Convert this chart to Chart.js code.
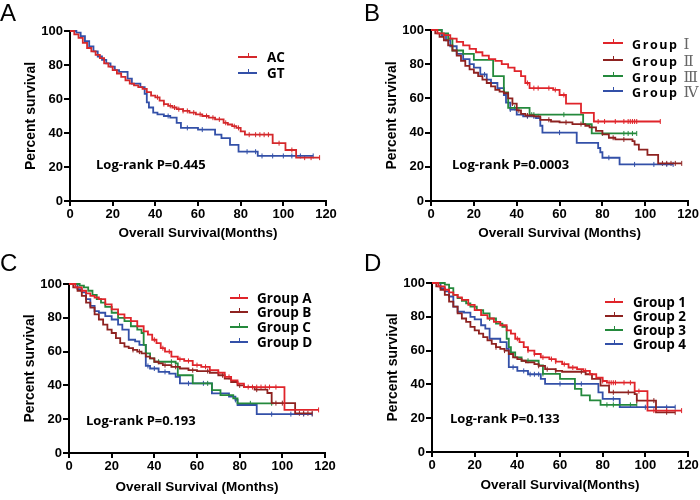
<!DOCTYPE html>
<html>
<head>
<meta charset="utf-8">
<script src="https://cdn.jsdelivr.net/npm/chart.js@4.4.0/dist/chart.umd.min.js"></script>
<style>
  body { margin: 0; background: #fff; }
  #wrap { position: relative; width: 700px; height: 500px; overflow: hidden; font-family: "Liberation Sans", Arial, sans-serif; }
  .panel { position: absolute; width: 350px; height: 250px; }
  .letter { position: absolute; font-size: 24px; line-height: 24px; color: #000; }
  .lr { position: absolute; font: 700 13px "Open Sans", sans-serif; line-height: 14px; color: #000; white-space: nowrap; }
  .row { position: absolute; height: 16px; white-space: nowrap; font: 700 13.5px "Open Sans", sans-serif; line-height: 16px; color: #000; }
  .smp { position: absolute; left: 0; top: 7px; height: 2px; }
  .smp i { position: absolute; top: -3px; width: 1px; height: 4px; }
  .txt { position: absolute; top: 0; }
  .sp { letter-spacing: 1.6px; font-size: 12.5px; }
  .num { font: normal 15px "DejaVu Serif", serif; color: #666; margin-left: 5px; }
</style>
</head>
<body>
<div id="wrap">
  <canvas id="cA" class="panel" width="350" height="250" style="left:0;top:0"></canvas>
  <canvas id="cB" class="panel" width="350" height="250" style="left:350px;top:0"></canvas>
  <canvas id="cC" class="panel" width="350" height="250" style="left:0;top:250px"></canvas>
  <canvas id="cD" class="panel" width="350" height="250" style="left:350px;top:250px"></canvas>
</div>
<script>
// axis ticks
const xTicks = [0, 20, 40, 60, 80, 100, 120];
const yTicks = [0, 20, 40, 60, 80, 100];

// panel A: AC / GT
const acTime = [0,2,4,6,8,10,12,14,16,18,20,22,24,26,28,30,32,34,36,38,40,42,44,46,48,50,53,56,59,62,65,68,70,72,74,76,78,80,82,95,101,106,117];
const acSurv = [100,98,96,93,90,88,86,84,81,79,77,75,73,71,69,68,67,66,64,62,61,59,57,56,55,54,53,52,51,50,49,48,48,46,45,44,43,41,39,34,30,25.5,25.5];
const acCens = [41,44,47,49,51,53,55,58,61,64,67,70,73,77,79,84,87,89,91,93,98,104,110,113,117];
const gtTime = [0,3,5,7,9,11,13,15,17,19,21,23,25,27,29,31,33,35,36,37,39,41,44,47,50,52,60,68,71,75,79,88,114];
const gtSurv = [100,99,97,94,91,88,85,83,81,79,77,76,76,72,69,69,67,63,58,55,52,51,50,49,46,43,42,39,37,33,29,26.5,26.5];
const gtCens = [46,55,62,83,87,90,95,100,104,108,114];

// panel B: Group I-IV
const b1Time = [0,3,6,9,12,15,18,21,24,27,30,33,36,39,42,44,46,57,60,63,70,76,107];
const b1Surv = [100,98,97,95,93,91,89,87,85,83,82,80,78,76,73,69,66,65,62,57,51.5,46.5,46.5];
const b1Cens = [45,48,50,55,58,62,78,81,86,90,92,93,94,95,96,107];
const b2Time = [0,2,4,6,8,10,12,14,16,18,20,22,24,26,28,30,32,34,36,38,40,42,44,48,51,56,60,66,72,74,77,80,83,86,94,95,97,101,106,117];
const b2Surv = [100,98,96,94,91,88,85,82,79,77,75,73,71,69,67,65,64,63,60,57,53,51,50,49.5,47.5,46.5,46,45,44,43,41,39,37,36,35,33,30,27,22,22];
const b2Cens = [38,41,45,50,55,63,70,75,85,90,108,110,112,114,117];
const b3Time = [0,5,8,10,15,20,29,34,36,46,71,75,96];
const b3Surv = [100,98,95,88,86,82.5,73,63.5,54.5,50.5,45,39.5,39.5];
const b3Cens = [39,47,48,62,80,90,92,94,96];
const b4Time = [0,5,7,9,12,15,18,20,23,26,28,31,34,35,37,40,43,49,51,52,68,78,79,80,88,113];
const b4Surv = [100,97,94,90.5,86,83,80,78,74,71,69,66,62,57.5,53.5,50.5,49.5,48.5,44,40,34,31,28.5,25.3,21.4,21.4];
const b4Cens = [25,37,45,48,60,83,95,104,110,113];

// panel C: Group A-D
const caTime = [0,3,6,8,10,12,14,17,20,23,26,29,32,35,37,39,41,43,45,48,51,54,58,62,66,70,73,76,79,82,101,117];
const caSurv = [100,98,96,94.5,93,92,91,88,85,82,80,78,75,72,70,67,65,62,60,57,55.5,54.5,52,51,49,47.5,45,43,41,39,25.5,25.5];
const caCens = [40,44,47,52,56,60,64,70,75,84,86,88,90,92,94,97,117];
const cbTime = [0,2,4,6,8,10,12,14,16,18,20,22,24,26,28,30,32,34,36,38,40,42,44,48,52,56,60,66,70,73,76,79,82,87,93,95,106,114];
const cbSurv = [100,98,96,93,89,86,82,79,76,73,71,68,65,63,62,61,60,59,57,56,54,53,52,51,50,49,48.5,47.5,46,44,42,40,39,37.5,35.5,29.5,23.5,23.5];
const cbCens = [30,33,45,50,58,65,72,80,88,97,100,108,110,112,114];
const ccTime = [0,5,7,9,11,13,15,17,20,23,26,29,32,34,35,36,38,40,50,51,58,67,71,77,79,96];
const ccSurv = [100,99,98,96,93.5,91,89,86.5,83,80,78,75,73,71,64,59,56,54,53,46,41.2,37.2,34.3,32.3,29.4,29.4];
const ccCens = [42,48,65,85,95];
const cdTime = [0,4,6,8,10,12,14,17,20,23,25,28,31,33,36,38,42,47,50,52,67,75,78,79,88,114];
const cdSurv = [100,97,95,91,87,84,83,81,79,76,73,67,66,64,51.5,50,48,47,45,41.2,35.3,33.3,31.4,28.4,23,23];
const cdCens = [37,40,45,56,63,78,95,104,110,114];

// panel D: Group 1-4
const d1Time = [0,3,6,8,10,12,14,17,20,23,26,29,32,35,37,39,41,43,45,48,51,55,58,61,64,68,71,74,77,80,82,95,101,117];
const d1Surv = [100,98,96,94.5,93,91.5,90,87,84,81,79,77,75,72,70,67,65,62,60,58,56,55,53.5,52,50,49,48,46,44,42,41,36,24.5,24.5];
const d1Cens = [40,45,48,52,56,58,62,66,72,80,83,84,85,86,90,93,97,104,110,117];
const d2Time = [0,2,4,6,8,10,12,14,16,18,20,22,24,26,28,30,32,34,36,38,40,42,44,48,50,53,58,61,72,75,79,83,95,96,105,114];
const d2Surv = [100,98,96,93,89,86,82,79,77,74,72,70,68,66,64,62,61,60,58,56,55,54,53,52,51,49,48,47.5,46,43.3,39.3,35.3,34.3,30.4,23.5,23.5];
const d2Cens = [30,34,50,54,58,70,85,92,96,104,110,114];
const d3Time = [0,6,8,10,12,14,16,18,21,24,27,30,33,35,36,37,39,42,50,52,60,67,70,74,79,96];
const d3Surv = [100,99,97,93,91,89.5,88,86,84,82,79,76,74,67,62,59,56,54,51.3,46.2,43.3,37.4,33.5,30.5,27.9,27.9];
const d3Cens = [27,45,52,82,85,88,93,96];
const d4Time = [0,4,6,8,10,12,15,18,20,23,25,27,32,35,36,40,45,51,53,78,80,88,114];
const d4Surv = [100,97,95,92,86,83,82.5,80,78.5,75,73,67,65,61,50.2,48,46,43.3,40.3,35.3,31.4,26.5,26.5];
const d4Cens = [38,43,46,48,50,60,70,85,100,110,114];

const RED = '#e0242a', DARK = '#8e2220', GREEN = '#24893c', BLUE = '#3350a8';

const panels = [
  { canvas: 'cA', letter: 'A', ox: 0, oy: 0, area: { l: 70, r: 326, t: 31, b: 201 }, xTitle: 'Overall Survival(Months)', xPad: 9,
    p: 'Log-rank P=0.445', pPos: [96, 157], leg: { x: 238, w: 19, tx: 267, ys: [57, 73] }, spaced: false,
    series: [
      { name: 'AC', t: acTime, s: acSurv, c: acCens, color: '#d4282b' },
      { name: 'GT', t: gtTime, s: gtSurv, c: gtCens, color: BLUE } ] },
  { canvas: 'cB', letter: 'B', ox: 350, oy: 0, area: { l: 81, r: 339, t: 30, b: 201 }, xTitle: 'Overall Survival (Months)', xPad: 9,
    p: 'Log-rank P=0.0003', pPos: [452, 157], leg: { x: 603, w: 20, tx: 632, ys: [43, 60, 76, 91] }, spaced: true,
    series: [
      { name: 'Group Ⅰ', t: b1Time, s: b1Surv, c: b1Cens, color: RED },
      { name: 'Group Ⅱ', t: b2Time, s: b2Surv, c: b2Cens, color: DARK },
      { name: 'Group Ⅲ', t: b3Time, s: b3Surv, c: b3Cens, color: GREEN },
      { name: 'Group Ⅳ', t: b4Time, s: b4Surv, c: b4Cens, color: BLUE } ] },
  { canvas: 'cC', letter: 'C', ox: 0, oy: 250, area: { l: 69, r: 325, t: 34, b: 203 }, xTitle: 'Overall Survival (Months)', xPad: 5,
    p: 'Log-rank P=0.193', pPos: [86, 413], leg: { x: 230, w: 18, tx: 257, ys: [298, 312, 327, 342] }, spaced: false,
    series: [
      { name: 'Group A', t: caTime, s: caSurv, c: caCens, color: RED },
      { name: 'Group B', t: cbTime, s: cbSurv, c: cbCens, color: DARK },
      { name: 'Group C', t: ccTime, s: ccSurv, c: ccCens, color: GREEN },
      { name: 'Group D', t: cdTime, s: cdSurv, c: cdCens, color: BLUE } ] },
  { canvas: 'cD', letter: 'D', ox: 350, oy: 250, area: { l: 82, r: 338, t: 33, b: 202 }, xTitle: 'Overall Survival(Months)', xPad: 7,
    p: 'Log-rank P=0.133', pPos: [450, 411], leg: { x: 605, w: 18, tx: 633, ys: [302, 316, 330, 344] }, spaced: false,
    series: [
      { name: 'Group 1', t: d1Time, s: d1Surv, c: d1Cens, color: RED },
      { name: 'Group 2', t: d2Time, s: d2Surv, c: d2Cens, color: DARK },
      { name: 'Group 3', t: d3Time, s: d3Surv, c: d3Cens, color: GREEN },
      { name: 'Group 4', t: d4Time, s: d4Surv, c: d4Cens, color: BLUE } ] }
];

// survival level at time t from a step curve
function survAt(times, surv, t) {
  let v = surv[0];
  for (let i = 0; i < times.length; i++) if (times[i] <= t) v = surv[i];
  return v;
}

const AXF = '"Liberation Sans", Arial, sans-serif';
const wrap = document.getElementById('wrap');

panels.forEach(p => {
  const lines = p.series.map(sr => ({
    data: sr.t.map((t, i) => ({ x: t, y: sr.s[i] })),
    stepped: 'before', borderColor: sr.color, borderWidth: 1.8,
    pointRadius: 0, fill: false, clip: false
  }));
  const cens = p.series.map(sr => ({
    data: sr.c.map(t => ({ x: t, y: survAt(sr.t, sr.s, t) })),
    showLine: false, pointStyle: 'line', rotation: 90, pointRadius: 2.5,
    pointBorderWidth: 1, borderColor: sr.color, backgroundColor: sr.color, clip: false
  }));

  const a = p.area;
  new Chart(document.getElementById(p.canvas), {
    type: 'line',
    data: { datasets: [...lines, ...cens] },
    options: {
      responsive: false, animation: false,
      layout: { padding: { left: 0, top: a.t, right: 350 - a.r, bottom: 0 } },
      plugins: { legend: { display: false }, tooltip: { enabled: false } },
      scales: {
        x: {
          type: 'linear', min: 0, max: 120,
          afterBuildTicks: s => { s.ticks = xTicks.map(v => ({ value: v })); },
          afterFit: s => { s.height = 250 - a.b; },
          border: { display: true, color: '#000', width: 2 },
          grid: { drawOnChartArea: false, drawTicks: true, tickLength: 5, color: '#000', lineWidth: 2 },
          ticks: { color: '#000', padding: 1, maxRotation: 0, font: { family: AXF, size: 13, weight: 'bold' } },
          title: { display: true, text: p.xTitle, color: '#000', padding: { top: 0, bottom: p.xPad },
                   font: { family: AXF, size: 13.5, weight: 'bold' } }
        },
        y: {
          min: 0, max: 100,
          afterBuildTicks: s => { s.ticks = yTicks.map(v => ({ value: v })); },
          afterFit: s => { s.width = a.l; },
          border: { display: true, color: '#000', width: 2 },
          grid: { drawOnChartArea: false, drawTicks: true, tickLength: 6, color: '#000', lineWidth: 2 },
          ticks: { color: '#000', padding: 1, font: { family: AXF, size: 13, weight: 'bold' } },
          title: { display: true, text: 'Percent survival', color: '#000', padding: { top: a.l - 39 - 8, bottom: 0 },
                   font: { family: AXF, size: 14, weight: 'bold' } }
        }
      }
    }
  });

  // panel letter
  const L = document.createElement('div');
  L.className = 'letter';
  L.textContent = p.letter;
  L.style.left = (p.ox + (p.ox ? 14 : 0)) + 'px';
  L.style.top = (p.oy + 1) + 'px';
  wrap.appendChild(L);

  // log-rank text
  const T = document.createElement('div');
  T.className = 'lr';
  T.textContent = p.p;
  T.style.left = p.pPos[0] + 'px';
  T.style.top = p.pPos[1] + 'px';
  wrap.appendChild(T);

  // legend rows
  p.series.forEach((sr, i) => {
    const row = document.createElement('div');
    row.className = 'row';
    row.style.left = p.leg.x + 'px';
    row.style.top = (p.leg.ys[i] - 8) + 'px';
    const smp = document.createElement('span');
    smp.className = 'smp';
    smp.style.width = p.leg.w + 'px';
    smp.style.background = sr.color;
    const tick = document.createElement('i');
    tick.style.left = Math.round(p.leg.w / 2) + 'px';
    tick.style.background = sr.color;
    smp.appendChild(tick);
    row.appendChild(smp);
    const txt = document.createElement('span');
    txt.className = 'txt';
    txt.style.left = (p.leg.tx - p.leg.x) + 'px';
    if (p.spaced) {
      const parts = sr.name.split(' ');
      txt.innerHTML = '<span class="sp">' + parts[0] + '</span><span class="num">' + parts[1] + '</span>';
    } else {
      txt.textContent = sr.name;
    }
    row.appendChild(txt);
    wrap.appendChild(row);
  });
});
</script>
</body>
</html>
